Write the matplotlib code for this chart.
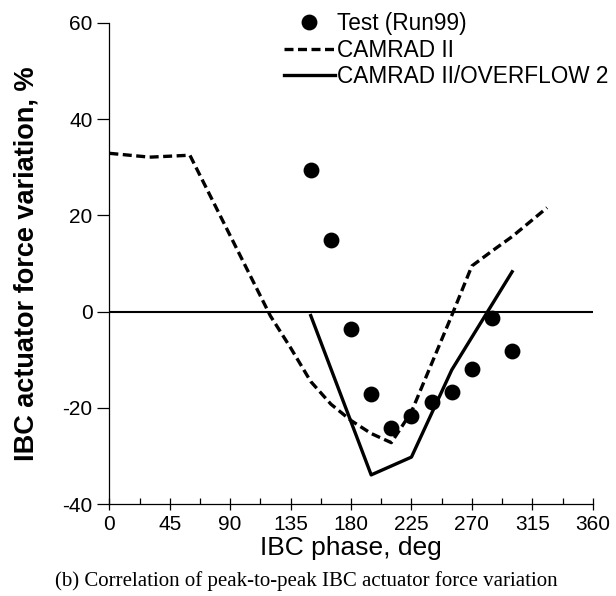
import matplotlib
matplotlib.use("Agg")
import matplotlib.pyplot as plt
from matplotlib.ticker import MultipleLocator

# Data
test_phase = [150, 165, 180, 195, 210, 225, 240, 255, 270, 285, 300]
test_force = [29.4, 14.9, -3.6, -17.1, -24.1, -21.6, -18.8, -16.7, -11.9, -1.4, -8.2]

camrad_phase = [0, 30, 60, 90, 120, 135, 150, 165, 180, 195, 210, 225, 240, 255, 270, 285, 300, 326]
camrad_force = [32.9, 32.1, 32.5, 15.8, -0.9, -7.5, -14.5, -19.2, -22.6, -25.3, -27.2, -20.8, -10.8, -0.8, 9.5, 12.6, 15.6, 21.6]

overflow_phase = [150, 195, 225, 255, 300]
overflow_force = [-0.8, -33.9, -30.2, -12.1, 8.3]

x_ticks = [0, 45, 90, 135, 180, 225, 270, 315, 360]
y_ticks = [-40, -20, 0, 20, 40, 60]

plt.rcParams['font.family'] = ['Liberation Sans', 'DejaVu Sans']
plt.rcParams['axes.unicode_minus'] = False

fig = plt.figure(figsize=(6.16, 5.96), dpi=100)
ax = fig.add_axes([0.1775, 0.1539, 0.7847, 0.8078])

ax.axhline(0, color='black', lw=1.5, zorder=1)

lw = 2.4
ax.plot(test_phase, test_force, 'o', color='black', markersize=10.4, label='Test (Run99)', zorder=4)
ax.plot(camrad_phase, camrad_force, color='black', lw=lw, linestyle=(0, (2.7, 1.35)), label='CAMRAD II', zorder=3)
ax.plot(overflow_phase, overflow_force, color='black', lw=lw, linestyle='-', label='CAMRAD II/OVERFLOW 2', zorder=3)

ax.set_xlim(0, 360)
ax.set_ylim(-40, 60)
ax.set_xticks(x_ticks)
ax.set_yticks(y_ticks)
ax.xaxis.set_minor_locator(MultipleLocator(22.5))

for s in ['top', 'right']:
    ax.spines[s].set_visible(False)
for s in ['left', 'bottom']:
    ax.spines[s].set_linewidth(0.9)

ax.tick_params(axis='x', which='major', direction='inout', length=9, width=0.9, labelsize=15, pad=3)
ax.tick_params(axis='x', which='minor', direction='in', length=4, width=0.9)
ax.tick_params(axis='y', which='major', direction='out', length=9, width=0.9, labelsize=15, pad=3)

ax.set_xlabel('IBC phase, deg', fontsize=19)
ax.xaxis.set_label_coords(0.5, -0.066)
ax.xaxis.label.set_va('top')
ax.set_ylabel('IBC actuator force variation, %', fontsize=19.5, fontweight='bold')
ax.yaxis.set_label_coords(-0.145, 0.5)

leg = ax.legend(loc='upper left', bbox_to_anchor=(284 / 616, 1 - 12 / 596), bbox_transform=fig.transFigure,
                frameon=False, fontsize=16.3, handlelength=2.25, handletextpad=0.1,
                labelspacing=0.16, borderpad=0, borderaxespad=0)

fig.text(55 / 616, 1 - 586 / 596, '(b) Correlation of peak-to-peak IBC actuator force variation',
         family=['Liberation Serif', 'DejaVu Serif'], fontsize=15, va='baseline', ha='left')

fig.savefig('out.png', dpi=100)
